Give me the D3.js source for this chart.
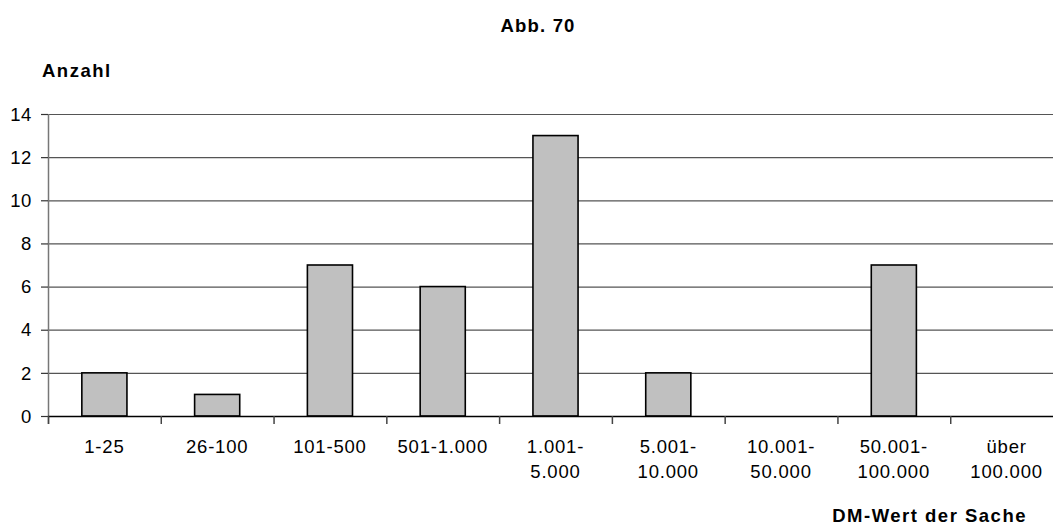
<!DOCTYPE html>
<html><head><meta charset="utf-8">
<script src="https://cdn.jsdelivr.net/npm/d3@7"></script>
<style>body{margin:0;background:#fff}svg text{font-family:"Liberation Sans",Arial,sans-serif;fill:#000}</style>
</head><body>
<svg id="c" width="1053" height="526"></svg>
<script>
const categories = [["1-25"],["26-100"],["101-500"],["501-1.000"],["1.001-","5.000"],["5.001-","10.000"],["10.001-","50.000"],["50.001-","100.000"],["über","100.000"]];
const values = [2,1,7,6,13,2,0,7,0];
const yTicks = [0,2,4,6,8,10,12,14];
const title = "Abb. 70";
const yTitle = "Anzahl";
const xTitle = "DM-Wert der Sache";

const svg = d3.select("#c");
const L = 48, R = 1063, T = 114, B = 416;
const x = d3.scaleBand().domain(d3.range(values.length)).range([L, R]).paddingInner(0.6).paddingOuter(0.3);
const y = d3.scaleLinear().domain([0,14]).range([B, T]);
const step = x.step();

// gridlines
svg.append("g").selectAll("line").data(yTicks.filter(d=>d>0)).join("line")
  .attr("x1", L).attr("x2", R).attr("y1", d=>y(d)+0.5).attr("y2", d=>y(d)+0.5)
  .attr("stroke", "#555").attr("stroke-width", 1.2);

// y axis
const yAxis = svg.append("g");
yAxis.append("line").attr("x1", L+0.5).attr("x2", L+0.5).attr("y1", T).attr("y2", B+8).attr("stroke", "#777").attr("stroke-width", 1.5);
yAxis.selectAll("line.t").data(yTicks).join("line").attr("class","t")
  .attr("x1", L-7).attr("x2", L).attr("y1", d=>y(d)+0.5).attr("y2", d=>y(d)+0.5).attr("stroke", "#333").attr("stroke-width", 1.2);
yAxis.selectAll("text").data(yTicks).join("text")
  .attr("x", 32).attr("y", d=>y(d)).attr("dy", "0.36em").attr("text-anchor", "end")
  .attr("font-size", "18.5px").attr("letter-spacing", "0.6px").text(d=>d);

// bars
svg.append("g").selectAll("rect").data(values).join("rect")
  .attr("x", (d,i)=>x(i)).attr("width", x.bandwidth())
  .attr("y", d=>y(d)).attr("height", d=>B - y(d))
  .attr("fill", "#c0c0c0").attr("stroke", "#000").attr("stroke-width", 1.6)
  .attr("display", d=>d>0?null:"none");

// x axis
svg.append("line").attr("x1", L).attr("x2", R).attr("y1", B+0.5).attr("y2", B+0.5).attr("stroke", "#000").attr("stroke-width", 1.5);
svg.append("g").selectAll("line").data(d3.range(values.length+1)).join("line")
  .attr("x1", i=>L + i*step + 0.5).attr("x2", i=>L + i*step + 0.5).attr("y1", B).attr("y2", B+8)
  .attr("stroke", "#444").attr("stroke-width", 1.5);
const xl = svg.append("g").selectAll("text").data(categories).join("text")
  .attr("x", (d,i)=>x(i)+x.bandwidth()/2).attr("y", 453).attr("text-anchor","middle")
  .attr("font-size","18.5px").attr("letter-spacing","0.8px");
xl.selectAll("tspan").data(d=>d).join("tspan")
  .attr("x", function(){return this.parentNode.getAttribute("x");})
  .attr("dy", (d,i)=>i===0?0:25).text(d=>d);

// titles
svg.append("text").attr("x", 538).attr("y", 32).attr("text-anchor","middle").attr("font-weight","bold")
  .attr("font-size","18.5px").attr("letter-spacing","1.2px").text(title);
svg.append("text").attr("x", 42).attr("y", 77).attr("font-weight","bold")
  .attr("font-size","18.5px").attr("letter-spacing","1.5px").text(yTitle);
svg.append("text").attr("x", 1027).attr("y", 522).attr("text-anchor","end").attr("font-weight","bold")
  .attr("font-size","18.5px").attr("letter-spacing","1.5px").text(xTitle);
</script>
</body></html>
